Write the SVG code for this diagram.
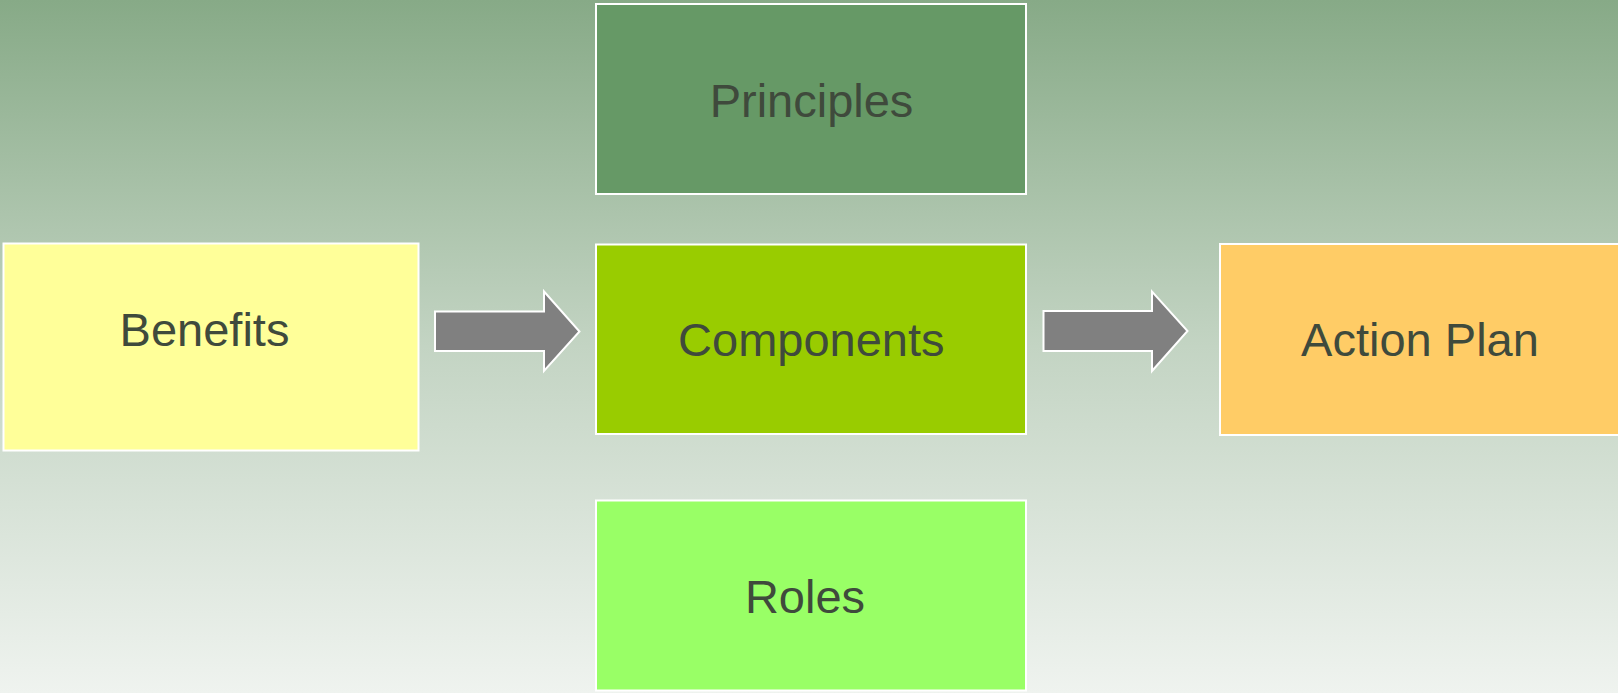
<svg xmlns="http://www.w3.org/2000/svg" width="1618" height="693" viewBox="0 0 1618 693">
<defs>
<linearGradient id="bg" x1="0" y1="0" x2="0" y2="1">
<stop offset="0" stop-color="#87AA87"/>
<stop offset="0.5" stop-color="#C3D4C3"/>
<stop offset="1" stop-color="#EFF3EF"/>
</linearGradient>
</defs>
<style>
.box{stroke:#FFFFFF;stroke-width:2}
.lbl{font-family:"Liberation Sans",Arial,sans-serif;font-size:47px;fill:#3F4A3C;text-anchor:middle}
.arrow{fill:#808080;stroke:#FFFFFF;stroke-width:2;stroke-linejoin:miter}
</style>
<rect x="0" y="0" width="1618" height="693" fill="url(#bg)"/>
<g id="connectors">
<path class="arrow" d="M435,311.5 H544 V291.5 L579.5,331.5 L544,371 V351 H435 Z"/>
<path class="arrow" d="M1043.5,311 H1152 V291.5 L1187.5,331 L1152,371 V351 H1043.5 Z"/>
</g>
<g id="principles">
<rect class="box" x="596" y="4" width="430" height="190" fill="#669966"/>
<text class="lbl" x="811.5" y="117">Principles</text>
</g>
<g id="benefits">
<rect class="box" x="3.5" y="243.5" width="415" height="207" fill="#FFFF99"/>
<text class="lbl" x="204.5" y="346">Benefits</text>
</g>
<g id="components">
<rect class="box" x="596" y="244.5" width="430" height="189.5" fill="#99CC00"/>
<text class="lbl" x="811.3" y="356">Components</text>
</g>
<g id="action-plan">
<rect class="box" x="1220" y="244" width="420" height="191" fill="#FFCC66"/>
<text class="lbl" x="1420" y="356">Action Plan</text>
</g>
<g id="roles">
<rect class="box" x="596" y="500.5" width="430" height="190" fill="#99FF66"/>
<text class="lbl" x="805" y="613">Roles</text>
</g>
</svg>
